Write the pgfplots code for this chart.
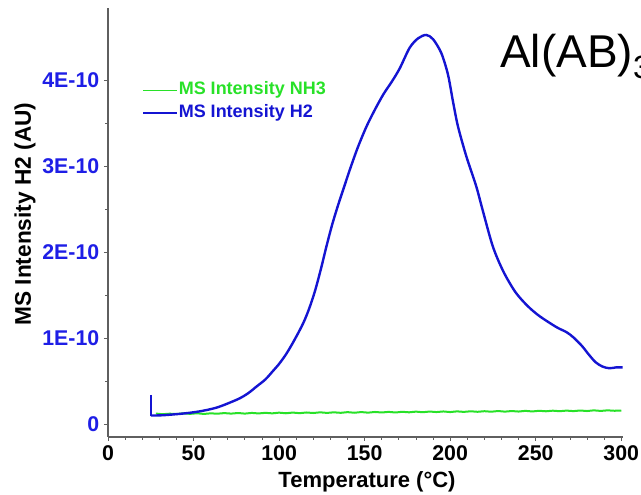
\documentclass[border=0pt]{standalone}
\usepackage{pgfplots}
\pgfplotsset{compat=1.18}
\usepackage{fontspec}
\setmainfont{Liberation Sans}
\definecolor{nhgreen}{RGB}{40,225,40}
\definecolor{htblue}{RGB}{20,20,210}
\definecolor{tickblue}{RGB}{30,30,230}
\definecolor{axgray}{RGB}{95,95,95}
\begin{document}
\begin{tikzpicture}
\begin{axis}[
  scale only axis, width=386.25pt, height=321.5pt,
  xmin=0, xmax=301, ymin=-0.15e-10, ymax=4.84e-10,
  axis lines=left,
  axis line style={-, draw=axgray, line width=1.1pt},
  xtick={0,50,...,300}, minor x tick num=4,
  ytick={0,1e-10,2e-10,3e-10,4e-10},
  yticklabels={0,1E-10,2E-10,3E-10,4E-10},
  minor y tick num=1,
  scaled y ticks=false,
  tick align=outside, major tick length=3pt, minor tick length=2pt,
  tick style={draw=axgray, line width=0.6pt},
  /pgf/number format/assume math mode=true,
  xticklabel style={font=\fontsize{16}{19}\selectfont\bfseries, text=black},
  yticklabel style={font=\fontsize{16}{19}\selectfont\bfseries, text=tickblue},
  xlabel={Temperature (°C)},
  ylabel={MS Intensity H2 (AU)},
  every axis x label/.style={at={(rel axis cs:0.503,-0.119)}, anchor=base, font=\fontsize{16.5}{20}\selectfont\bfseries},
  every axis y label/.style={at={(rel axis cs:-0.161,0.52)}, rotate=90, anchor=center, font=\fontsize{17}{20}\selectfont\bfseries},
  legend style={at={(rel axis cs:0.067,0.833)}, anchor=north west, draw=none, fill=none,
    font=\fontsize{13.5}{16}\selectfont\bfseries, inner sep=0pt, row sep=2pt,
    nodes={inner sep=1pt, text height=10pt, text depth=3pt}},
  legend cell align=left,
  legend image code/.code={\draw[#1, line width=1pt] (0pt,0pt) -- (25pt,0pt);},
]
\addplot[nhgreen, line width=1.5pt] coordinates {
(28,0.122e-10)(32,0.115e-10)(36,0.121e-10)(40,0.117e-10)(44,0.125e-10)(48,0.119e-10)
(52,0.126e-10)(56,0.118e-10)(60,0.125e-10)(64,0.121e-10)(68,0.128e-10)(72,0.122e-10)
(76,0.129e-10)(80,0.122e-10)(84,0.130e-10)(88,0.124e-10)(92,0.131e-10)(96,0.125e-10)
(100,0.133e-10)(104,0.126e-10)(108,0.134e-10)(112,0.127e-10)(116,0.135e-10)(120,0.129e-10)
(124,0.137e-10)(128,0.130e-10)(132,0.137e-10)(136,0.131e-10)(140,0.139e-10)(144,0.132e-10)
(148,0.140e-10)(152,0.133e-10)(156,0.141e-10)(160,0.135e-10)(164,0.142e-10)(168,0.135e-10)
(172,0.143e-10)(176,0.137e-10)(180,0.145e-10)(184,0.138e-10)(188,0.146e-10)(192,0.140e-10)
(196,0.147e-10)(200,0.140e-10)(204,0.148e-10)(208,0.142e-10)(212,0.149e-10)(216,0.143e-10)
(220,0.150e-10)(224,0.144e-10)(228,0.152e-10)(232,0.145e-10)(236,0.152e-10)(240,0.146e-10)
(244,0.154e-10)(248,0.147e-10)(252,0.155e-10)(256,0.149e-10)(260,0.156e-10)(264,0.150e-10)
(268,0.157e-10)(272,0.151e-10)(276,0.158e-10)(280,0.152e-10)(284,0.160e-10)(288,0.153e-10)
(292,0.160e-10)(296,0.155e-10)(300,0.157e-10)
};
\addlegendentry{\textcolor{nhgreen}{MS Intensity NH3}}
\addplot[htblue, line width=1.8pt, smooth, tension=0.5] coordinates {
(25,0.10e-10)(28,0.100e-10)(32,0.103e-10)(38,0.112e-10)(45,0.125e-10)(52,0.143e-10)
(58,0.165e-10)(64,0.195e-10)(70,0.24e-10)(77,0.30e-10)(82,0.36e-10)(87,0.44e-10)
(92,0.52e-10)(96.5,0.62e-10)(100,0.70e-10)(104.3,0.82e-10)(109,0.98e-10)(114,1.17e-10)
(117.5,1.34e-10)(121,1.55e-10)(124.5,1.81e-10)(127.7,2.07e-10)(131,2.32e-10)(134.5,2.55e-10)
(138,2.76e-10)(141.5,2.97e-10)(146,3.22e-10)(151,3.46e-10)(156,3.66e-10)(161,3.84e-10)
(166,3.99e-10)(170.5,4.14e-10)(176.3,4.38e-10)(181.2,4.49e-10)(186,4.53e-10)(190,4.48e-10)
(194.8,4.32e-10)(198.7,4.07e-10)(201.6,3.76e-10)(204.5,3.47e-10)(209.4,3.12e-10)(215.2,2.77e-10)
(219,2.49e-10)(224.9,2.07e-10)(231,1.78e-10)(238,1.54e-10)(245,1.38e-10)(252,1.26e-10)
(262,1.13e-10)(268,1.07e-10)(272,1.01e-10)(277,0.91e-10)(281,0.81e-10)(285,0.72e-10)
(289,0.67e-10)(293,0.65e-10)(297,0.66e-10)(300.8,0.66e-10)
};
\addlegendentry{\textcolor{htblue}{MS Intensity H2}}
\addplot[htblue, line width=1.6pt, forget plot] coordinates {(24.9,0.34e-10)(24.9,0.09e-10)};
\coordinate (ttl) at (rel axis cs:0.761,0.861);
\coordinate (bl) at (rel axis cs:-0.2097,-0.1353);
\coordinate (tr) at (rel axis cs:1.035,1.0194);
\end{axis}
\node[anchor=base west, inner sep=0pt, font=\fontsize{34.5}{40}\selectfont] at (ttl) {Al(AB)\textsubscript{3}};
\pgfresetboundingbox
\useasboundingbox (bl) rectangle (tr);
\end{tikzpicture}
\end{document}
